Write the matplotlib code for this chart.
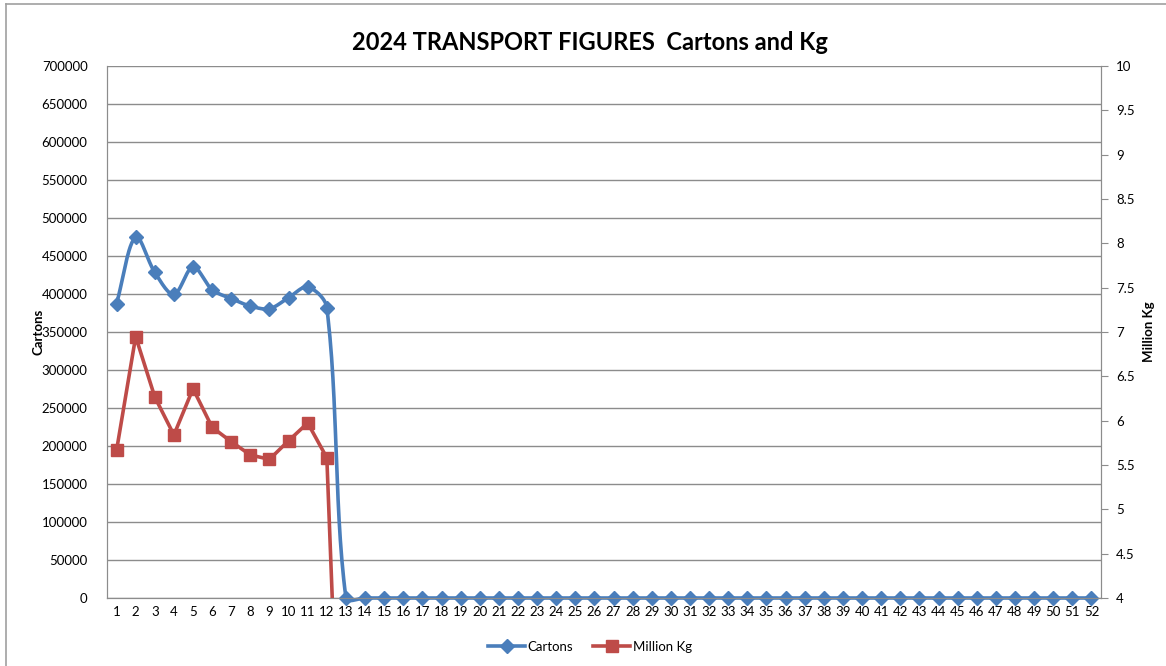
import numpy as np
import matplotlib.pyplot as plt
from matplotlib.lines import Line2D

plt.rcParams['font.family'] = ['Lato', 'DejaVu Sans']

weeks = list(range(1, 53))
cartons = [387300, 475000, 428500, 399500, 435500, 405700, 393900, 384200,
           380700, 395200, 409200, 382000] + [0] * 40
million_kg = [5.665, 6.948, 6.267, 5.839, 6.361, 5.925, 5.763, 5.613,
              5.564, 5.774, 5.974, 5.582] + [0] * 40

blue = '#4a7ebb'
red = '#be4b48'
grid = '#8c8c8c'

# pixel scale of the plot area (used so the smoothing behaves like Excel's)
PX_X = 994 / 52
PX_Y = 532 / 700000


def smooth(x, y, n=30):
    # bezier smoothing with tangents scaled by neighbouring segment lengths
    P = np.column_stack([np.asarray(x, float) * PX_X, np.asarray(y, float) * PX_Y])
    P = np.vstack([P[0], P, P[-1]])
    t = np.linspace(0, 1, n)[:, None]
    out = []
    for i in range(1, len(P) - 2):
        p0, p1, p2, p3 = P[i - 1], P[i], P[i + 1], P[i + 2]
        d01 = np.hypot(*(p1 - p0))
        d12 = np.hypot(*(p2 - p1))
        d23 = np.hypot(*(p3 - p2))
        f1 = d12 / (3 * (d01 + d12)) if d01 + d12 > 0 else 0
        f2 = d12 / (3 * (d12 + d23)) if d12 + d23 > 0 else 0
        c1 = p1 + (p2 - p0) * f1
        c2 = p2 - (p3 - p1) * f2
        b = (1 - t) ** 3 * p1 + 3 * (1 - t) ** 2 * t * c1 + 3 * (1 - t) * t ** 2 * c2 + t ** 3 * p2
        out.append(b)
    out = np.vstack(out)
    return out[:, 0] / PX_X, out[:, 1] / PX_Y


fig = plt.figure(figsize=(11.66, 6.66), dpi=100)
ax = fig.add_axes([107 / 1166, 1 - 598 / 666, (1101 - 107) / 1166, (598 - 66) / 666])
ax2 = ax.twinx()

sx, sy = smooth(weeks, cartons)
ax.plot(sx, sy, color=blue, lw=2.6, zorder=3, clip_on=False)
ax.plot(weeks, cartons, ls='none', marker='D', ms=7, color=blue, zorder=4, clip_on=False)

ax2.plot(weeks, million_kg, color=red, lw=2.6, marker='s', ms=8.5, zorder=3)

ax.set_xlim(0.5, 52.5)
ax.set_ylim(0, 700000)
ax.set_yticks(range(0, 700001, 50000))
ax2.set_ylim(4, 10)
ax2.set_yticks(np.arange(4, 10.01, 0.5))
ax2.set_yticklabels([f'{v:g}' for v in np.arange(4, 10.01, 0.5)])
ax.set_xticks(weeks)
ax.set_xticklabels([str(w) for w in weeks])

ax.grid(axis='y', color=grid, lw=1)
ax.set_axisbelow(True)
for a in (ax, ax2):
    for s in a.spines.values():
        s.set_color(grid)
    a.spines['top'].set_visible(False)
ax.tick_params(axis='both', length=0, labelsize=9.5, colors='black')
ax.tick_params(axis='y', pad=14)
ax.tick_params(axis='x', pad=6)
ax2.tick_params(axis='y', length=5, color=grid, labelsize=9.5, pad=6)

ax.set_ylabel('Cartons', fontsize=9.5, fontweight='bold', labelpad=-2)
ax2.set_ylabel('Million Kg', fontsize=9.5, fontweight='bold', rotation=90, labelpad=6)

fig.text(0.506, 1 - 42 / 666, '2024 TRANSPORT FIGURES  Cartons and Kg',
         ha='center', va='center', fontsize=17, fontweight='bold')

handles = [Line2D([], [], color=blue, lw=2.6, marker='D', ms=7),
           Line2D([], [], color=red, lw=2.6, marker='s', ms=8)]
fig.legend(handles, ['Cartons', 'Million Kg'], loc='center', bbox_to_anchor=(0.506, 1 - 647 / 666),
           ncol=2, frameon=False, fontsize=9.5, handlelength=2.8, columnspacing=1.5, handletextpad=0.2)

# chart border
fig.add_artist(Line2D([6 / 1166, 6 / 1166], [0, 1 - 4 / 666], color='#a0a0a0', lw=1.2))
fig.add_artist(Line2D([6 / 1166, 1], [1 - 4 / 666, 1 - 4 / 666], color='#a0a0a0', lw=1.2))

fig.savefig('out.png', dpi=100, facecolor='white')
